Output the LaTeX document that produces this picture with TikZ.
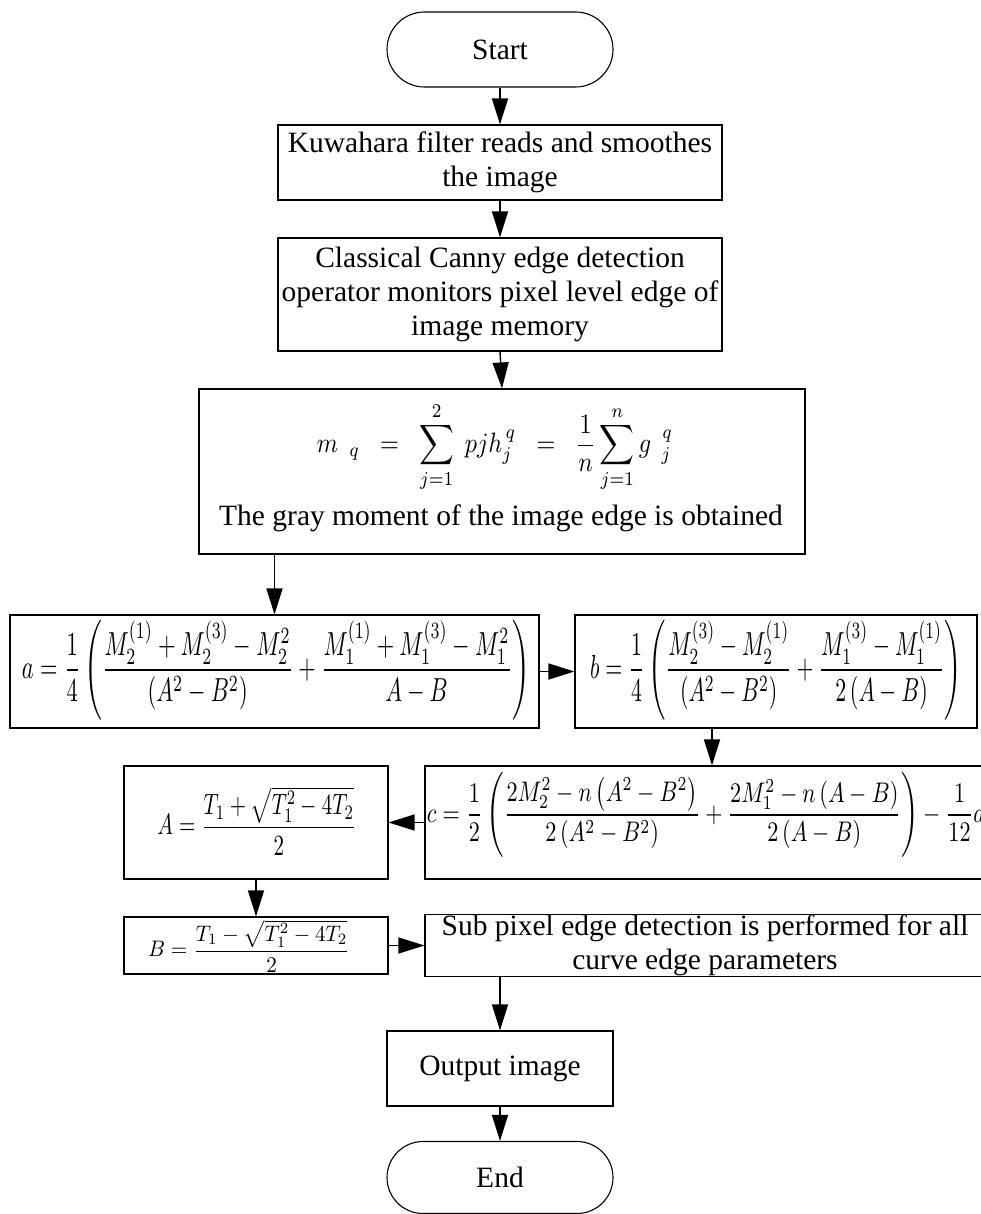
\documentclass[tikz,border=0pt]{standalone}
\usepackage{amsmath}
\usepackage{graphicx}
\usepackage{fontspec}
\setmainfont{Liberation Serif}
\usetikzlibrary{shapes.misc,arrows.meta}
\begin{document}
\begin{tikzpicture}[x=1pt,y=-1pt,
  box/.style={draw, line width=1.1pt, rectangle, inner sep=0pt, align=center,
    font=\fontsize{29.5}{34}\selectfont},
  term/.style={box, rounded rectangle},
  txt/.style={inner sep=0pt, align=center, font=\fontsize{29.5}{34}\selectfont},
  frm/.style={inner sep=0pt},
  arr/.style={line width=1.4pt, -{Triangle[length=26pt,width=16pt]}}
]
\useasboundingbox (0,0) rectangle (981,1214);

\node[term, minimum width=226pt, minimum height=75pt] (start) at (500,49.5) {Start};
\node[box, minimum width=444pt, minimum height=75pt] (k) at (500,162.5)
  {Kuwahara filter reads and smoothes\\the image};
\node[box, minimum width=444pt, minimum height=113pt] (c2) at (500,294.5)
  {Classical Canny edge detection\\operator monitors pixel level edge of\\image memory};
\node[box, minimum width=606pt, minimum height=165pt] (g) at (502,471.5) {};
\node[frm] (gf) at (495,447) {\resizebox*{356pt}{90pt}{$\displaystyle
  m_{\;\;q}\;\;=\;\;\sum_{j=1}^{2}\;pjh_j^{\,q}\;\;=\;\;\frac{1}{n}\sum_{j=1}^{n}g_{\;\;j}^{\;\;q}$}};
\node[txt] (gt) at (501,518) {The gray moment of the image edge is obtained};

\node[box, minimum width=529pt, minimum height=113pt] (a) at (274.5,671.5) {};
\node[frm] (af) at (276,670) {\resizebox*{508pt}{100pt}{$\displaystyle
  a=\frac{1}{4}\left(\frac{M_2^{(1)}+M_2^{(3)}-M_2^2}{\left(A^2-B^2\right)}+\frac{M_1^{(1)}+M_1^{(3)}-M_1^2}{A-B}\right)$}};

\node[box, minimum width=402pt, minimum height=113pt] (b) at (776,671.5) {};
\node[frm] (bf) at (776,670) {\resizebox*{372pt}{100pt}{$\displaystyle
  b=\frac{1}{4}\left(\frac{M_2^{(3)}-M_2^{(1)}}{\left(A^2-B^2\right)}+\frac{M_1^{(3)}-M_1^{(1)}}{2\left(A-B\right)}\right)$}};

\node[box, minimum width=574pt, minimum height=113pt] (c) at (712,822.5) {};
\node[frm] (cf) at (706,815) {\resizebox*{558pt}{85pt}{$\displaystyle
  c=\frac{1}{2}\left(\frac{2M_2^2-n\left(A^2-B^2\right)}{2\left(A^2-B^2\right)}+\frac{2M_1^2-n\left(A-B\right)}{2\left(A-B\right)}\right)-\frac{1}{12}a$}};

\node[box, minimum width=264pt, minimum height=113pt] (A) at (256,822.5) {};
\node[frm] (Af) at (257,821) {\resizebox*{199pt}{68pt}{$\displaystyle
  A=\frac{T_1+\sqrt{T_1^2-4T_2}}{2}$}};

\node[box, minimum width=264pt, minimum height=57pt] (B) at (256,945.5) {};
\node[frm] (Bf) at (249,946) {\resizebox*{202pt}{52pt}{$\displaystyle
  B=\frac{T_1-\sqrt{T_1^2-4T_2}}{2}$}};

\node[box, minimum width=560pt, minimum height=57pt] (s) at (705,945.5)
  {Sub pixel edge detection is performed for all\\curve edge parameters};

\node[box, minimum width=226pt, minimum height=75pt] (o) at (500,1068.5) {Output image};
\node[term, minimum width=226pt, minimum height=72pt] (e) at (500,1177.5) {End};

\draw[arr] (start.south) -- (k.north);
\draw[arr] (k.south) -- (c2.north);
\draw[arr] (c2.south) -- (g.north);
\draw[arr] (g.south -| a.north) -- (a.north);
\draw[arr] (a.east) -- (b.west);
\draw[arr] (b.south -| c.north) -- (c.north);
\draw[arr] (c.west) -- (A.east);
\draw[arr] (A.south) -- (B.north);
\draw[arr] (B.east) -- (s.west);
\draw[arr] (s.south -| o.north) -- (o.north);
\draw[arr] (o.south) -- (e.north);
\end{tikzpicture}
\end{document}
